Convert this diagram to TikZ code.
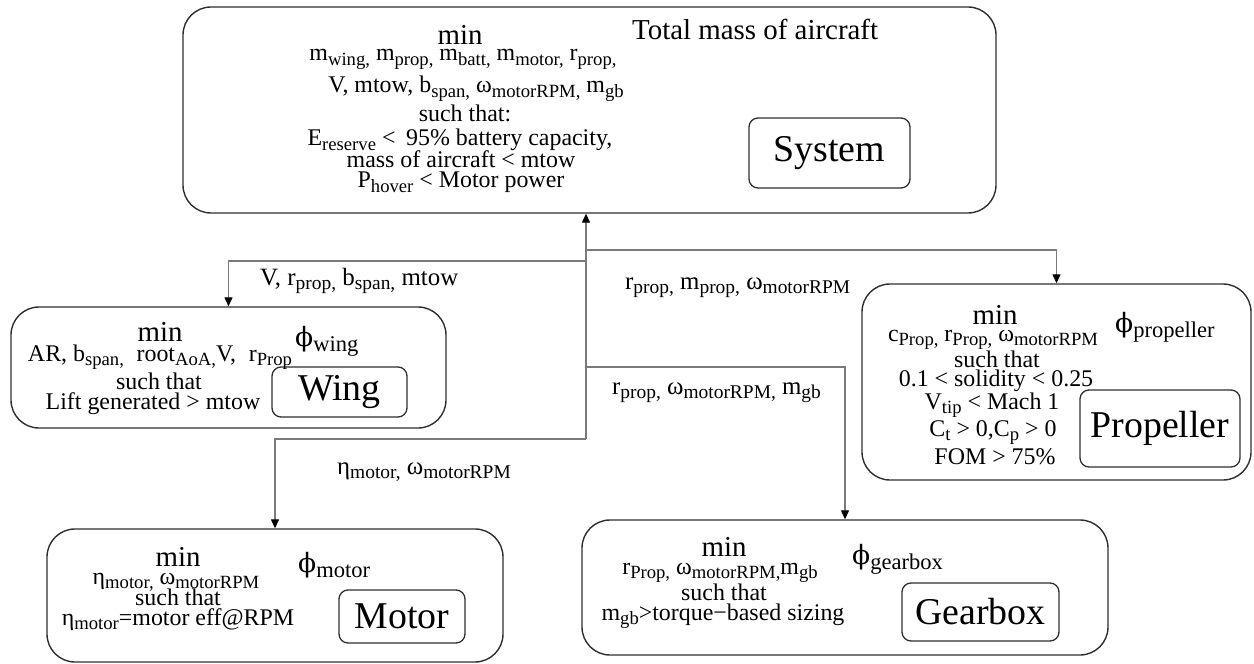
\documentclass[tikz,border=0pt]{standalone}
\usepackage{graphicx}
\usepackage{fontspec}
\setmainfont{Liberation Serif}
\newfontfamily\phifont{DejaVu Serif}
\usetikzlibrary{arrows.meta}

% lowered, reduced-size index text
\newcommand\lowr[1]{\raisebox{-0.2em}{\scalebox{0.78}{#1}}}
\newcommand\fsz[1]{\fontsize{#1}{#1}\selectfont}
\newcommand\phis{{\phifont\scalebox{0.92}{ϕ}}}

\definecolor{boxgray}{HTML}{2E2E2E}
\definecolor{linegray}{HTML}{7A7A7A}

\tikzset{
  outer/.style={draw=boxgray, line width=1.4bp, rounded corners=28bp, inner sep=0pt},
  tagbox/.style={draw=boxgray, line width=1.3bp, rounded corners=9bp, inner sep=0pt, font=\fsz{38}},
  txt/.style={inner sep=0pt, anchor=base, font=\fsz{24}},
  lbl/.style={inner sep=0pt, anchor=base west, font=\fsz{25}},
  big/.style={inner sep=0pt, anchor=base, font=\fsz{29}},
  obj/.style={inner sep=0pt, anchor=base west, font=\fsz{29}},
  conn/.style={draw=linegray, line width=1.3bp},
  tip/.style={-{Triangle[length=9bp,width=8bp,color=black]}}
}

\begin{document}
\begin{tikzpicture}[x=1bp, y=-1bp]
\useasboundingbox (0,0) rectangle (1254,664);

% ---------- system level ----------
\node[outer, minimum width=813bp, minimum height=206bp] (sys) at (589.5,110) {};
\node[tagbox, minimum width=161bp, minimum height=70bp] (systag) at (829.5,153) {System};
\node[big] (sysmin) at (460,45) {min};
\node[obj] (sysobj) at (632,40) {Total mass of aircraft};
\node[txt] (sysv1) at (463,61) {m\lowr{wing,} m\lowr{prop,} m\lowr{batt,} m\lowr{motor,} r\lowr{prop,}};
\node[txt] (sysv2) at (476,93) {V, mtow, b\lowr{span,} ω\lowr{motorRPM,} m\lowr{gb}};
\node[txt] (sysst) at (465,122) {such that:};
\node[txt] (sysc1) at (460,146) {E\lowr{reserve} <\;\,95\% battery capacity,};
\node[txt] (sysc2) at (461,168) {mass of aircraft < mtow};
\node[txt] (sysc3) at (461,188) {P\lowr{hover} < Motor power};

% ---------- wing ----------
\node[outer, minimum width=435bp, minimum height=121bp] (wing) at (228.5,367.5) {};
\node[tagbox, minimum width=135bp, minimum height=50bp] (wingtag) at (339.5,392) {Wing};
\node[big] (wingmin) at (160,341) {min};
\node[obj] (wingobj) at (295,346) {\phis\lowr{wing}};
\node[txt] (wingv) at (160,361) {AR, b\lowr{span,}\; root\lowr{AoA,}V,\; r\lowr{Prop}};
\node[txt] (wingst) at (159,389) {such that};
\node[txt] (wingc) at (153,409) {Lift generated > mtow};

% ---------- propeller ----------
\node[outer, minimum width=389bp, minimum height=196bp] (prop) at (1056.5,382) {};
\node[tagbox, minimum width=160bp, minimum height=77bp] (proptag) at (1160,428.5) {Propeller};
\node[big] (propmin) at (995,324) {min};
\node[obj] (propobj) at (1115,332) {\phis\lowr{propeller}};
\node[txt] (propv) at (993,341) {c\lowr{Prop,} r\lowr{Prop,} ω\lowr{motorRPM}};
\node[txt] (propst) at (997,367) {such that};
\node[txt] (propc1) at (996,386) {0.1 < solidity < 0.25};
\node[txt] (propc2) at (992,409) {V\lowr{tip} < Mach 1};
\node[txt] (propc3) at (993,436) {C\lowr{t} > 0,C\lowr{p} > 0};
\node[txt] (propc4) at (995,464) {FOM > 75\%};

% ---------- gearbox ----------
\node[outer, minimum width=526bp, minimum height=135bp] (gear) at (845,587.5) {};
\node[tagbox, minimum width=157bp, minimum height=58bp] (geartag) at (980.5,612) {Gearbox};
\node[big] (gearmin) at (724,556) {min};
\node[obj] (gearobj) at (852,564) {\phis\lowr{gearbox}};
\node[txt] (gearv) at (720,574) {r\lowr{Prop,} ω\lowr{motorRPM,}m\lowr{gb}};
\node[txt] (gearst) at (724,600) {such that};
\node[txt] (gearc) at (723,620) {m\lowr{gb}>torque−based sizing};

% ---------- motor ----------
\node[outer, minimum width=456bp, minimum height=133bp] (motor) at (275,595.5) {};
\node[tagbox, minimum width=126bp, minimum height=53bp] (motortag) at (402,616.5) {Motor};
\node[big] (motormin) at (178,566) {min};
\node[obj] (motorobj) at (298,572) {\phis\lowr{motor}};
\node[txt] (motorv) at (176,584) {η\lowr{motor,} ω\lowr{motorRPM}};
\node[txt] (motorst) at (178,605) {such that};
\node[txt] (motorc) at (178,625) {η\lowr{motor}=motor eff@RPM};

% ---------- coupling variables ----------
\node[lbl] (lw) at (260,285) {V, r\lowr{prop,} b\lowr{span,} mtow};
\node[lbl] (lp) at (625,289) {r\lowr{prop,} m\lowr{prop,} ω\lowr{motorRPM}};
\node[lbl] (lg) at (612,394) {r\lowr{prop,} ω\lowr{motorRPM,} m\lowr{gb}};
\node[lbl] (lm) at (337,474) {η\lowr{motor,} ω\lowr{motorRPM}};

% ---------- trunk and branches ----------
\coordinate (jp) at (586,250);
\coordinate (jw) at (586,261);
\coordinate (jg) at (586,367);
\coordinate (jm) at (586,439);

\draw[conn, tip] (jm) -- (jm |- sys.south);
\draw[conn, tip] (jw) -| (wing.north);
\draw[conn, tip] (jp) -| (prop.north);
\draw[conn, tip] (jg) -| (gear.north);
\draw[conn, tip] (jm) -| (motor.north);
\end{tikzpicture}
\end{document}
